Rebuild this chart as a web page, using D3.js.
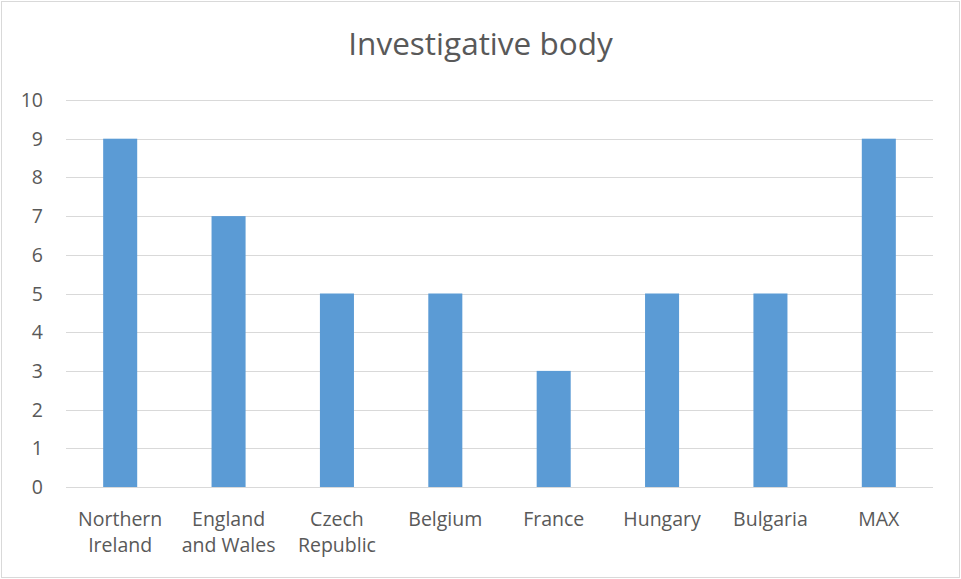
<!DOCTYPE html>
<html>
<head>
<meta charset="utf-8">
<script src="https://cdn.jsdelivr.net/npm/d3@7"></script>
<style>
  body { margin: 0; background: #fff; }
  text { font-family: "Open Sans", "Noto Sans", sans-serif; fill: #595959; }
</style>
</head>
<body>
<svg id="chart" width="961" height="579"></svg>
<script>
// data
const categories = [
  ['Northern', 'Ireland'],
  ['England', 'and Wales'],
  ['Czech', 'Republic'],
  ['Belgium'],
  ['France'],
  ['Hungary'],
  ['Bulgaria'],
  ['MAX']
];
const values = [9, 7, 5, 5, 3, 5, 5, 9];
const yTicks = [0, 1, 2, 3, 4, 5, 6, 7, 8, 9, 10];

const svg = d3.select('#chart');
const W = 961, H = 579;
const margin = {left: 66, right: 28, top: 100, bottom: 92};

// outer border
svg.append('rect')
  .attr('x', 1.5).attr('y', 1.5)
  .attr('width', W - 3).attr('height', H - 3)
  .attr('fill', '#fff')
  .attr('stroke', '#d9d9d9');

const x = d3.scaleBand()
  .domain(d3.range(categories.length))
  .range([margin.left, W - margin.right])
  .padding(0);

const y = d3.scaleLinear()
  .domain([0, 10])
  .range([H - margin.bottom, margin.top]);

// gridlines
svg.append('g')
  .selectAll('line')
  .data(yTicks)
  .join('line')
  .attr('x1', margin.left)
  .attr('x2', W - margin.right)
  .attr('y1', d => Math.round(y(d)) + 0.5)
  .attr('y2', d => Math.round(y(d)) + 0.5)
  .attr('stroke', '#d9d9d9')
  .attr('stroke-width', 1);

// y tick labels
svg.append('g')
  .selectAll('text')
  .data(yTicks)
  .join('text')
  .attr('x', 43)
  .attr('y', d => y(d) + 7)
  .attr('text-anchor', 'end')
  .style('font-size', '19.5px')
  .text(d => d);

// bars
const barW = x.bandwidth() * 0.314;
svg.append('g')
  .selectAll('rect')
  .data(values)
  .join('rect')
  .attr('x', (d, i) => x(i) + x.bandwidth() / 2 - barW / 2)
  .attr('y', d => y(d))
  .attr('width', barW)
  .attr('height', d => y(0) - y(d))
  .attr('fill', '#5b9bd5');

// category labels
const catGroup = svg.append('g')
  .selectAll('text')
  .data(categories)
  .join('text')
  .attr('text-anchor', 'middle')
  .style('font-size', '19.5px');

catGroup.selectAll('tspan')
  .data((d, i) => d.map(t => ({t, i})))
  .join('tspan')
  .attr('x', d => x(d.i) + x.bandwidth() / 2)
  .attr('y', (d, j) => 526 + j * 26)
  .text(d => d.t);

// title
svg.append('text')
  .attr('x', W / 2)
  .attr('y', 55)
  .attr('text-anchor', 'middle')
  .style('font-size', '31.5px')
  .text('Investigative body');
</script>
</body>
</html>
